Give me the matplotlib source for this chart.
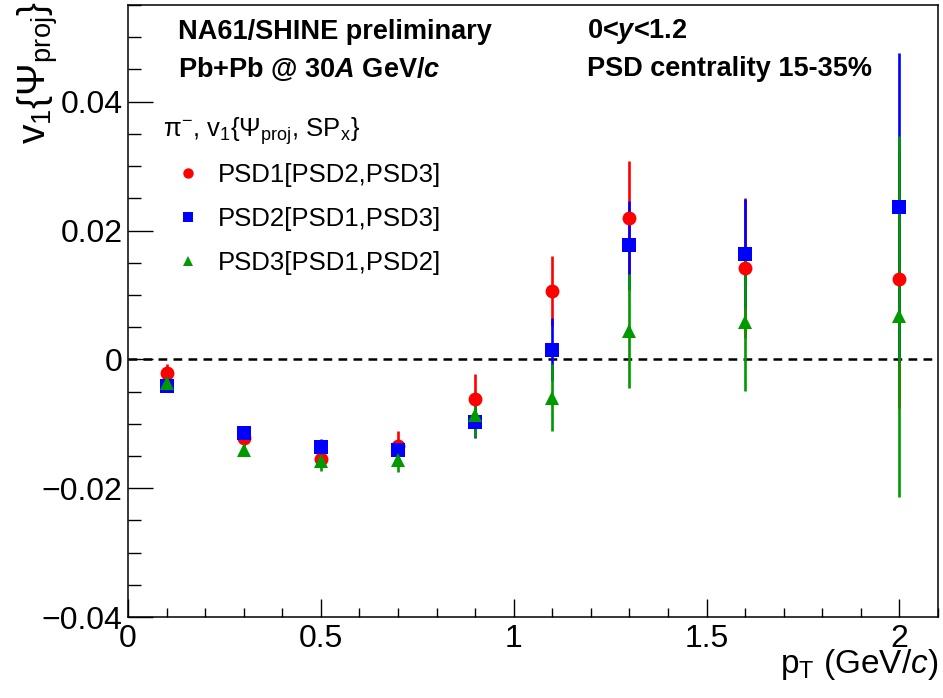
import matplotlib
matplotlib.use("Agg")
import matplotlib.pyplot as plt
from matplotlib.ticker import MultipleLocator
from matplotlib.lines import Line2D

plt.rcParams['font.family'] = ['Liberation Sans', 'DejaVu Sans']
plt.rcParams['mathtext.fontset'] = 'custom'
plt.rcParams['mathtext.rm'] = 'Liberation Sans'
plt.rcParams['mathtext.it'] = 'Liberation Sans:italic'
plt.rcParams['mathtext.bf'] = 'Liberation Sans:bold'
plt.rcParams['mathtext.bfit'] = 'Liberation Sans:bold:italic'

# pT bin centres (GeV/c)
pt = [0.1, 0.3, 0.5, 0.7, 0.9, 1.1, 1.3, 1.6, 2.0]

# v1 values and statistical errors for the three PSD reference combinations
psd1 = [-0.0021, -0.0122, -0.0155, -0.0135, -0.0062, 0.0106, 0.0220, 0.0142, 0.0124]
psd1_err = [0.0013, 0.0012, 0.0014, 0.0023, 0.0039, 0.0054, 0.0088, 0.0109, 0.0200]
psd2 = [-0.0041, -0.0115, -0.0136, -0.0140, -0.0098, 0.0015, 0.0177, 0.0164, 0.0236]
psd2_err = [0.0010, 0.0010, 0.0013, 0.0015, 0.0024, 0.0049, 0.0069, 0.0085, 0.0240]
psd3 = [-0.0037, -0.0140, -0.0158, -0.0156, -0.0086, -0.0060, 0.0044, 0.0058, 0.0067]
psd3_err = [0.0010, 0.0010, 0.0016, 0.0019, 0.0035, 0.0052, 0.0089, 0.0107, 0.0280]

labels = ['PSD1[PSD2,PSD3]', 'PSD2[PSD1,PSD3]', 'PSD3[PSD1,PSD2]']
markers = ['o', 's', '^']
colors = ['#ff0000', '#0000ff', '#009900']

fig = plt.figure(figsize=(9.43, 6.98), dpi=100)
ax = fig.add_axes([0.1357, 0.1160, 0.859, 0.8768])

ax.axhline(0, color='black', lw=1.8, ls=(0, (3.5, 2.5)), zorder=1)

for vals, errs, mk, col, lab in zip([psd1, psd2, psd3], [psd1_err, psd2_err, psd3_err],
                                    markers, colors, labels):
    ax.errorbar(pt, vals, yerr=errs, fmt=mk, color=col, ms=10, mew=0,
                elinewidth=1.9, capsize=0, label=lab, zorder=2)

ax.set_xlim(0, 2.1)
ax.set_ylim(-0.04, 0.055)
ax.xaxis.set_major_locator(MultipleLocator(0.5))
ax.xaxis.set_minor_locator(MultipleLocator(0.1))
ax.yaxis.set_major_locator(MultipleLocator(0.02))
ax.yaxis.set_minor_locator(MultipleLocator(0.005))
ax.xaxis.set_major_formatter(plt.FuncFormatter(lambda v, p: f'{v:g}'))
ax.yaxis.set_major_formatter(plt.FuncFormatter(
    lambda v, p: '0' if abs(v) < 1e-9 else f'{v:.2f}'.replace('-', '\u2212')))

ax.tick_params(axis='both', which='both', direction='in', top=False, right=False,
               labelsize=23, width=1.0)
ax.tick_params(axis='y', which='major', length=18, pad=4)
ax.tick_params(axis='y', which='minor', length=9)
ax.tick_params(axis='x', which='major', length=13, pad=5)
ax.tick_params(axis='x', which='minor', length=6.5)
for sp in ax.spines.values():
    sp.set_linewidth(1.1)

# header texts
hdr = dict(transform=ax.transAxes, fontsize=19.5, fontweight='bold', va='center', ha='left')
ax.text(0.0617, 0.956, 'NA61/SHINE preliminary', **hdr)
ax.text(0.0617, 0.896, r'Pb+Pb @ 30$\mathbfit{A}$ GeV/$\mathbfit{c}$', **hdr)
ax.text(0.567, 0.956, r'0<$\mathbfit{y}$<1.2', **hdr)
ax.text(0.567, 0.896, 'PSD centrality 15-35%', **hdr)

# legend: header line + marker-only entries
ax.text(0.043, 0.794, r'π$^{-}$, v$_{1}${$\Psi_{\rm proj}$, SP$_{\rm x}$}',
        transform=ax.transAxes, fontsize=18.5, va='center', ha='left')
proxies = [Line2D([], [], ls='none', marker=m, color=c, ms=7.5, mew=0)
           for m, c in zip(markers, colors)]
ax.legend(handles=proxies, labels=labels, loc='upper left',
          bbox_to_anchor=(0.0556, 0.742), frameon=False, fontsize=18.5,
          handlelength=1.2, handletextpad=0.55, labelspacing=0.78,
          borderpad=0, borderaxespad=0)

# axis titles (ROOT style: aligned to the axis ends)
fig.text(0.040, 0.998, r'v$_{1}${$\Psi_{\rm proj}$}', rotation=90, fontsize=28,
         ha='center', va='top')
fig.text(0.9947, 0.048, r'p$_{\rm T}$ (GeV/$c$)', fontsize=24, ha='right', va='center')

fig.savefig('out.png', dpi=100)
